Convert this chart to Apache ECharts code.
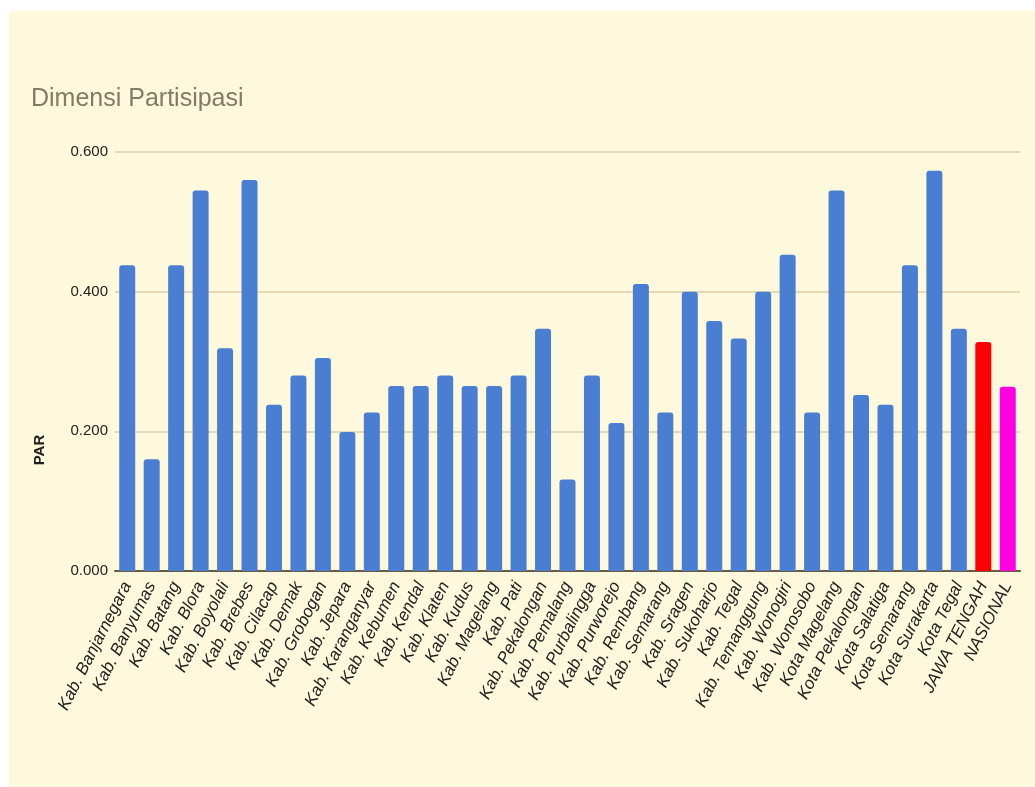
<!DOCTYPE html>
<html>
<head>
<meta charset="utf-8">
<script src="https://cdn.jsdelivr.net/npm/echarts@6/dist/echarts.min.js"></script>
<style>
  html, body { margin: 0; padding: 0; background: #ffffff; }
  #chart { position: absolute; left: 9px; top: 11px; width: 1026px; height: 776px; background: #fef9dc; }
</style>
</head>
<body>
<div id="chart"></div>
<script>
const categories = [
  "Kab. Banjarnegara", "Kab. Banyumas", "Kab. Batang", "Kab. Blora", "Kab. Boyolali",
  "Kab. Brebes", "Kab. Cilacap", "Kab. Demak", "Kab. Grobogan", "Kab. Jepara",
  "Kab. Karanganyar", "Kab. Kebumen", "Kab. Kendal", "Kab. Klaten", "Kab. Kudus",
  "Kab. Magelang", "Kab. Pati", "Kab. Pekalongan", "Kab. Pemalang", "Kab. Purbalingga",
  "Kab. Purworejo", "Kab. Rembang", "Kab. Semarang", "Kab. Sragen", "Kab. Sukoharjo",
  "Kab. Tegal", "Kab. Temanggung", "Kab. Wonogiri", "Kab. Wonosobo", "Kota Magelang",
  "Kota Pekalongan", "Kota Salatiga", "Kota Semarang", "Kota Surakarta", "Kota Tegal",
  "JAWA TENGAH", "NASIONAL"
];
const parValues = [
  0.438, 0.160, 0.438, 0.545, 0.319,
  0.560, 0.238, 0.280, 0.305, 0.199,
  0.227, 0.265, 0.265, 0.280, 0.265,
  0.265, 0.280, 0.347, 0.131, 0.280,
  0.212, 0.411, 0.227, 0.400, 0.358,
  0.333, 0.400, 0.453, 0.227, 0.545,
  0.252, 0.238, 0.438, 0.573, 0.347,
  0.328, 0.264
];
const yTicks = [0, 0.2, 0.4, 0.6];

const specialColors = { "JAWA TENGAH": "#ff0000", "NASIONAL": "#ff00e0" };
const baseColor = "#4a7ed3";
const FONT = "Liberation Sans, Arial, sans-serif";

const chart = echarts.init(document.getElementById('chart'));
chart.setOption({
  backgroundColor: '#fef9dc',
  animation: false,
  title: {
    text: 'Dimensi Partisipasi',
    left: 17, top: 71,
    textStyle: { fontFamily: FONT, fontSize: 25, fontWeight: 'normal', color: '#857a63' }
  },
  graphic: [{
    type: 'text',
    x: 31, y: 439,
    rotation: Math.PI / 2,
    style: { text: 'PAR', font: 'bold 15px ' + FONT, fill: '#222', textAlign: 'center', textVerticalAlign: 'middle' }
  }],
  grid: { left: 106, right: 15, top: 141, height: 419, containLabel: false },
  xAxis: {
    type: 'category',
    data: categories,
    axisLine: { show: true, lineStyle: { color: '#6b5b3e', width: 2 } },
    axisTick: { show: false },
    axisLabel: {
      interval: 0, rotate: 63, margin: 12,
      fontFamily: FONT, fontSize: 17, fontStyle: 'italic', color: '#222'
    }
  },
  yAxis: {
    type: 'value',
    min: yTicks[0], max: yTicks[yTicks.length - 1], interval: 0.2,
    axisLine: { show: false },
    axisTick: { show: false },
    axisLabel: {
      margin: 7, fontFamily: FONT, fontSize: 15, color: '#222',
      formatter: v => v.toFixed(3)
    },
    splitLine: { lineStyle: { color: '#dccca6', width: 1.5 } }
  },
  series: [{
    type: 'bar',
    data: parValues,
    barWidth: 16,
    itemStyle: {
      borderRadius: [3, 3, 0, 0],
      color: p => specialColors[p.name] || baseColor
    }
  }]
});
</script>
</body>
</html>
